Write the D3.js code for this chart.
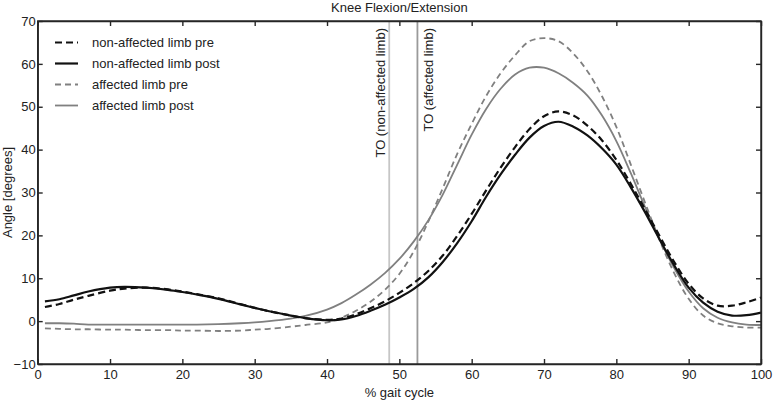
<!DOCTYPE html>
<html><head><meta charset="utf-8">
<script src="https://cdn.jsdelivr.net/npm/d3@7"></script>
<style>
html,body{margin:0;padding:0;background:#fff;}
svg{display:block;font-family:"Liberation Sans",Arial,Helvetica,sans-serif;}
</style></head>
<body>
<svg id="chart" width="773" height="400"></svg>
<script>
const title = "Knee Flexion/Extension";
const xLabel = "% gait cycle";
const yLabel = "Angle [degrees]";
const xTicks = [0,10,20,30,40,50,60,70,80,90,100];
const yTicks = [-10,0,10,20,30,40,50,60,70];

const pct = [1,3,5,7,10,12,15,18,20,22,25,28,30,32,35,37,40,42,44,46,48,50,52,54,56,58,60,62,64,66,68,70,72,74,76,78,80,82,84,86,88,90,92,94,96,98,100];

const nonAffPre = [3.3,4.0,5.0,5.9,7.1,7.6,7.8,7.4,6.9,6.3,5.3,4.0,3.1,2.3,1.3,0.7,0.3,0.6,1.6,3.0,4.6,6.6,8.9,11.7,15.3,19.9,25.0,30.5,35.8,40.6,44.8,47.8,48.9,48.0,45.6,42.2,37.6,32.0,26.0,19.8,13.8,8.7,5.3,3.6,3.6,4.4,5.5];
const nonAffPost = [4.6,5.1,6.0,6.9,7.8,8.0,7.8,7.3,6.8,6.2,5.2,3.9,3.1,2.3,1.3,0.7,0.2,0.4,1.2,2.4,3.8,5.5,7.5,10.2,13.8,18.2,23.3,29.0,34.2,38.8,42.8,45.5,46.5,45.4,43.3,40.3,36.5,31.2,25.3,19.0,13.0,7.8,4.3,2.2,1.3,1.4,2.0];
const affPre = [-1.7,-1.8,-1.9,-1.9,-2.0,-2.0,-2.1,-2.1,-2.2,-2.2,-2.3,-2.2,-2.0,-1.8,-1.3,-0.9,-0.3,0.8,2.4,4.5,7.3,11.0,16.3,23.2,31.0,39.0,46.0,52.5,57.8,62.0,65.3,66.0,65.3,62.5,58.3,52.5,45.3,36.5,27.5,18.8,11.2,5.2,1.3,-0.5,-1.2,-1.5,-1.5];
const affPost = [-0.5,-0.5,-0.6,-0.8,-0.8,-0.8,-0.8,-0.8,-0.8,-0.8,-0.7,-0.5,-0.3,0.0,0.6,1.2,2.7,4.2,6.2,8.5,11.2,14.5,18.6,23.5,29.5,36.5,43.5,49.5,54.2,57.5,59.1,59.1,57.8,55.6,52.6,48.0,42.0,34.5,26.5,19.0,12.4,6.9,3.0,0.8,-0.3,-0.8,-0.9];

const seriesNames = ["non-affected limb pre","non-affected limb post","affected limb pre","affected limb post"];
const seriesValues = [nonAffPre, nonAffPost, affPre, affPost];
const seriesColors = ["#111","#111","#808080","#808080"];
const seriesDash = ["7,4",null,"6,4",null];
const seriesWidth = [2.2,2.2,1.8,1.8];

const toLabels = ["TO (non-affected limb)","TO (affected limb)"];
const toPct = [48.6, 52.5];
const toColors = ["#c6c6c6","#9a9a9a"];

const svg = d3.select("#chart");
const L = 37.7, R = 761, T = 21, B = 364;
const x = d3.scaleLinear().domain([0,100]).range([L,R]);
const y = d3.scaleLinear().domain([-10,70]).range([B,T]);
const axisColor = "#262626";
const fs = 13;

// TO lines
toPct.forEach((p,i)=>{
  svg.append("line").attr("x1",x(p)).attr("x2",x(p)).attr("y1",T).attr("y2",B)
    .attr("stroke",toColors[i]).attr("stroke-width",1.8);
});
// TO labels
svg.append("text").attr("transform",`translate(${x(toPct[0])-4.5},28) rotate(-90)`)
  .attr("text-anchor","end").attr("font-size",fs).attr("fill","#222").text(toLabels[0]);
svg.append("text").attr("transform",`translate(${x(toPct[1])+15.5},28) rotate(-90)`)
  .attr("text-anchor","end").attr("font-size",fs).attr("fill","#222").text(toLabels[1]);

// series
const line = d3.line().x((d,i)=>x(pct[i])).y(d=>y(d)).curve(d3.curveCatmullRom.alpha(0.5));
const order = [3,2,1,0];
order.forEach(k=>{
  svg.append("path").datum(seriesValues[k]).attr("d",line)
    .attr("fill","none").attr("stroke",seriesColors[k])
    .attr("stroke-width",seriesWidth[k])
    .attr("stroke-dasharray",seriesDash[k]);
});

// axes (box with inward ticks)
const tl = 5;
const gB = svg.append("g").attr("transform",`translate(0,${B})`)
  .call(d3.axisBottom(x).tickValues(xTicks).tickSizeInner(-tl).tickSizeOuter(0).tickPadding(6));
const gT = svg.append("g").attr("transform",`translate(0,${T})`)
  .call(d3.axisTop(x).tickValues(xTicks).tickSizeInner(-tl).tickSizeOuter(0).tickFormat(""));
const gL = svg.append("g").attr("transform",`translate(${L},0)`)
  .call(d3.axisLeft(y).tickValues(yTicks).tickSizeInner(-tl).tickSizeOuter(0).tickPadding(4));
const gR = svg.append("g").attr("transform",`translate(${R},0)`)
  .call(d3.axisRight(y).tickValues(yTicks).tickSizeInner(-tl).tickSizeOuter(0).tickFormat(""));
[gB,gT,gL,gR].forEach(g=>{
  g.select(".domain").attr("stroke",axisColor).attr("stroke-width",1.4);
  g.selectAll(".tick line").attr("stroke",axisColor).attr("stroke-width",1.4);
  g.selectAll(".tick text").attr("font-size",fs).attr("fill","#222")
    .attr("font-family",'"Liberation Sans",Arial,Helvetica,sans-serif');
});
gL.selectAll(".tick text").attr("dx","0.15em");
svg.append("rect").attr("x",L).attr("y",T).attr("width",R-L).attr("height",B-T)
  .attr("fill","none").attr("stroke",axisColor).attr("stroke-width",1.4);

// titles
svg.append("text").attr("x",(L+R)/2).attr("y",11.5).attr("text-anchor","middle")
  .attr("font-size",fs).attr("fill","#222").text(title);
svg.append("text").attr("x",(L+R)/2).attr("y",397).attr("text-anchor","middle")
  .attr("font-size",fs).attr("fill","#222").text(xLabel);
svg.append("text").attr("transform",`translate(12,${(T+B)/2}) rotate(-90)`)
  .attr("text-anchor","middle").attr("font-size",fs).attr("fill","#222").text(yLabel);

// legend
seriesNames.forEach((n,i)=>{
  const yy = 42.5 + i*21;
  svg.append("line").attr("x1",55).attr("x2",78).attr("y1",yy).attr("y2",yy)
    .attr("stroke",seriesColors[i]).attr("stroke-width",seriesWidth[i])
    .attr("stroke-dasharray",seriesDash[i]);
  svg.append("text").attr("x",92).attr("y",yy+4.5).attr("font-size",fs)
    .attr("fill","#222").text(n);
});
</script>
</body></html>
